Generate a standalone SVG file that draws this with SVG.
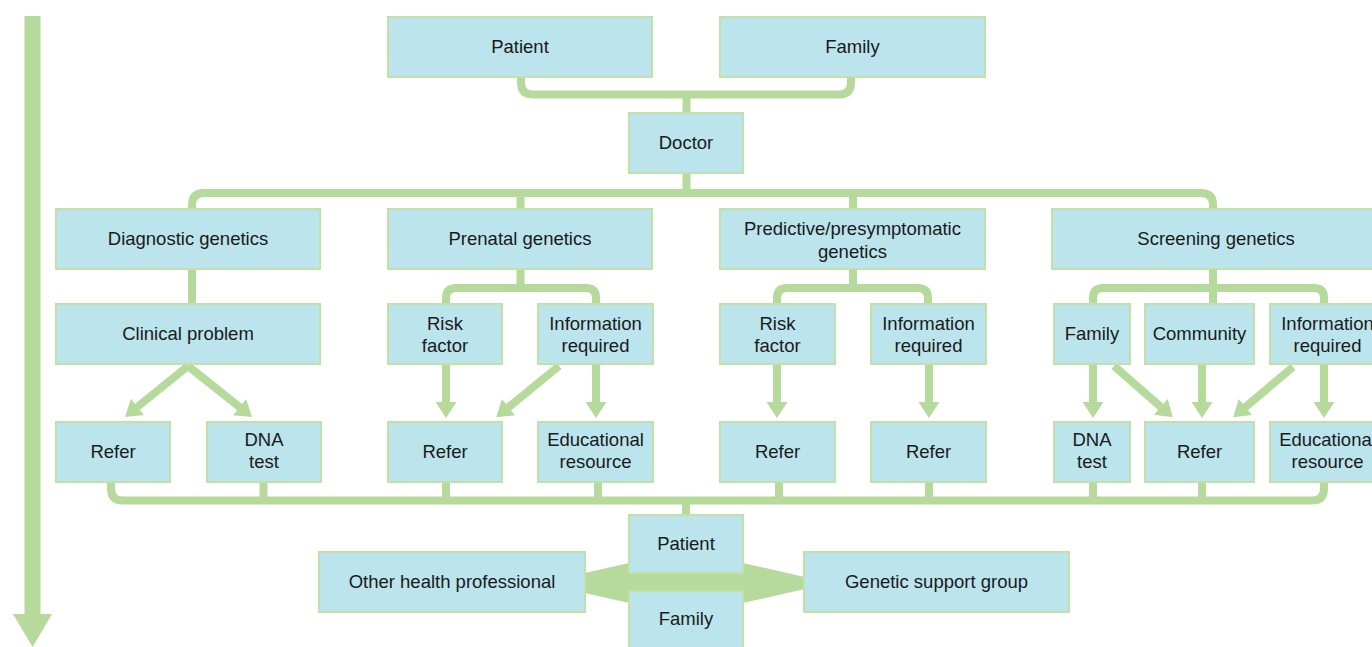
<svg xmlns="http://www.w3.org/2000/svg" width="1372" height="647" viewBox="0 0 1372 647">
<style>
.c{fill:none;stroke:#b6d99c;stroke-width:8}
.a{fill:none;stroke:#b6d99c;stroke-width:8;marker-end:url(#ah)}
.b{fill:#bbe4ec;stroke:#c2e1a8;stroke-width:2}
text{font-family:"Liberation Sans",Arial,sans-serif;font-size:18.5px;fill:#1a1a1a;text-anchor:middle}
</style>
<defs>
<marker id="ah" markerUnits="userSpaceOnUse" markerWidth="16" markerHeight="21" viewBox="0 0 16 21" refX="1" refY="10.5" orient="auto">
<path d="M0,0 L16,10.5 L0,21 z" fill="#b6d99c"/>
</marker>
</defs>
<rect width="1372" height="647" fill="#ffffff"/>
<g id="timeline">
<rect x="24.5" y="16" width="16" height="599" fill="#b6d99c"/>
<polygon points="13,614 52,614 32.5,647" fill="#b6d99c"/>
</g>
<g id="connectors">
<path class="c" d="M521,76 V82.5 Q521,94.5 533,94.5 H839 Q851,94.5 851,82.5 V76"/>
<path class="c" d="M686.5,94.5 V114"/>
<path class="c" d="M686.5,172 V193"/>
<path class="c" d="M192,210 V205 Q192,193 204,193 H1201 Q1213,193 1213,205 V210"/>
<path class="c" d="M520.5,193 V210 M853,193 V210"/>
<path class="c" d="M192,268 V305"/>
<path class="c" d="M520.5,268 V288"/>
<path class="c" d="M446,304 V298 Q446,288 456,288 H586 Q596,288 596,298 V304"/>
<path class="c" d="M853,268 V288"/>
<path class="c" d="M777,304 V298 Q777,288 787,288 H918 Q928,288 928,298 V304"/>
<path class="c" d="M1213,268 V305"/>
<path class="c" d="M1093,304 V298 Q1093,288 1103,288 H1314 Q1324,288 1324,298 V304"/>
<path class="a" d="M188,366 L136.7,407.5"/>
<path class="a" d="M188,366 L240.3,407.7"/>
<path class="a" d="M446,363 V403"/>
<path class="a" d="M559,366 L507.8,407.8"/>
<path class="a" d="M596,363 V403"/>
<path class="a" d="M777,363 V403"/>
<path class="a" d="M929,363 V403"/>
<path class="a" d="M1093,363 V403"/>
<path class="a" d="M1114,366 L1161.5,407.4"/>
<path class="a" d="M1202,363 V403"/>
<path class="a" d="M1293,367 L1244.7,407.6"/>
<path class="a" d="M1324,363 V403"/>
<path class="c" d="M111,481 V488.5 Q111,500.5 123,500.5 H1312 Q1324,500.5 1324,488.5 V481"/>
<path class="c" d="M263.5,481 V500.5 M446,481 V500.5 M598,481 V500.5 M779,481 V500.5 M929,481 V500.5 M1093,481 V500.5 M1202,481 V500.5"/>
<path class="c" d="M686,500.5 V516"/>
<polygon points="541,583 629,563 743,563 831,583 743,603 629,603" fill="#b6d99c"/>
</g>
<g id="patient-top"><rect class="b" x="388" y="17" width="264" height="60"/><text x="520" y="52.5">Patient</text></g>
<g id="family-top"><rect class="b" x="720" y="17" width="265" height="60"/><text x="852.5" y="52.5">Family</text></g>
<g id="doctor"><rect class="b" x="629" y="113" width="114" height="60"/><text x="686" y="148.5">Doctor</text></g>
<g id="diagnostic"><rect class="b" x="56" y="209" width="264" height="60"/><text x="188" y="244.5">Diagnostic genetics</text></g>
<g id="prenatal"><rect class="b" x="388" y="209" width="264" height="60"/><text x="520" y="244.5">Prenatal genetics</text></g>
<g id="predictive"><rect class="b" x="720" y="209" width="265" height="60"/><text x="852.5" y="234.5">Predictive/presymptomatic</text><text x="852.5" y="257.5">genetics</text></g>
<g id="screening"><rect class="b" x="1052" y="209" width="328" height="60"/><text x="1216" y="244.5">Screening genetics</text></g>
<g id="clinical-problem"><rect class="b" x="56" y="304" width="264" height="60"/><text x="188" y="339.5">Clinical problem</text></g>
<g id="pre-risk"><rect class="b" x="388" y="304" width="114" height="60"/><text x="445" y="329.5">Risk</text><text x="445" y="351.5">factor</text></g>
<g id="pre-info"><rect class="b" x="538" y="304" width="115" height="60"/><text x="595.5" y="329.5">Information</text><text x="595.5" y="351.5">required</text></g>
<g id="pred-risk"><rect class="b" x="720" y="304" width="115" height="60"/><text x="777.5" y="329.5">Risk</text><text x="777.5" y="351.5">factor</text></g>
<g id="pred-info"><rect class="b" x="871" y="304" width="115" height="60"/><text x="928.5" y="329.5">Information</text><text x="928.5" y="351.5">required</text></g>
<g id="scr-family"><rect class="b" x="1054" y="304" width="76" height="60"/><text x="1092" y="339.5">Family</text></g>
<g id="scr-community"><rect class="b" x="1145" y="304" width="109" height="60"/><text x="1199.5" y="339.5">Community</text></g>
<g id="scr-info"><rect class="b" x="1270" y="304" width="115" height="60"/><text x="1327.5" y="329.5">Information</text><text x="1327.5" y="351.5">required</text></g>
<g id="diag-refer"><rect class="b" x="56" y="422" width="114" height="60"/><text x="113" y="457.5">Refer</text></g>
<g id="diag-dna"><rect class="b" x="207" y="422" width="114" height="60"/><text x="264" y="445.5">DNA</text><text x="264" y="468">test</text></g>
<g id="pre-refer"><rect class="b" x="388" y="422" width="114" height="60"/><text x="445" y="457.5">Refer</text></g>
<g id="pre-edu"><rect class="b" x="538" y="422" width="115" height="60"/><text x="595.5" y="445.5">Educational</text><text x="595.5" y="468">resource</text></g>
<g id="pred-refer1"><rect class="b" x="720" y="422" width="115" height="60"/><text x="777.5" y="457.5">Refer</text></g>
<g id="pred-refer2"><rect class="b" x="871" y="422" width="115" height="60"/><text x="928.5" y="457.5">Refer</text></g>
<g id="scr-dna"><rect class="b" x="1054" y="422" width="76" height="60"/><text x="1092" y="445.5">DNA</text><text x="1092" y="468">test</text></g>
<g id="scr-refer"><rect class="b" x="1145" y="422" width="109" height="60"/><text x="1199.5" y="457.5">Refer</text></g>
<g id="scr-edu"><rect class="b" x="1270" y="422" width="115" height="60"/><text x="1327.5" y="445.5">Educational</text><text x="1327.5" y="468">resource</text></g>
<g id="patient-bottom"><rect class="b" x="629" y="515" width="114" height="58"/><text x="686" y="549.5">Patient</text></g>
<g id="family-bottom"><rect class="b" x="629" y="591" width="114" height="60"/><text x="686" y="624.5">Family</text></g>
<g id="other-health"><rect class="b" x="319" y="552" width="266" height="60"/><text x="452" y="587.5">Other health professional</text></g>
<g id="support-group"><rect class="b" x="804" y="552" width="265" height="60"/><text x="936.5" y="587.5">Genetic support group</text></g>
</svg>
